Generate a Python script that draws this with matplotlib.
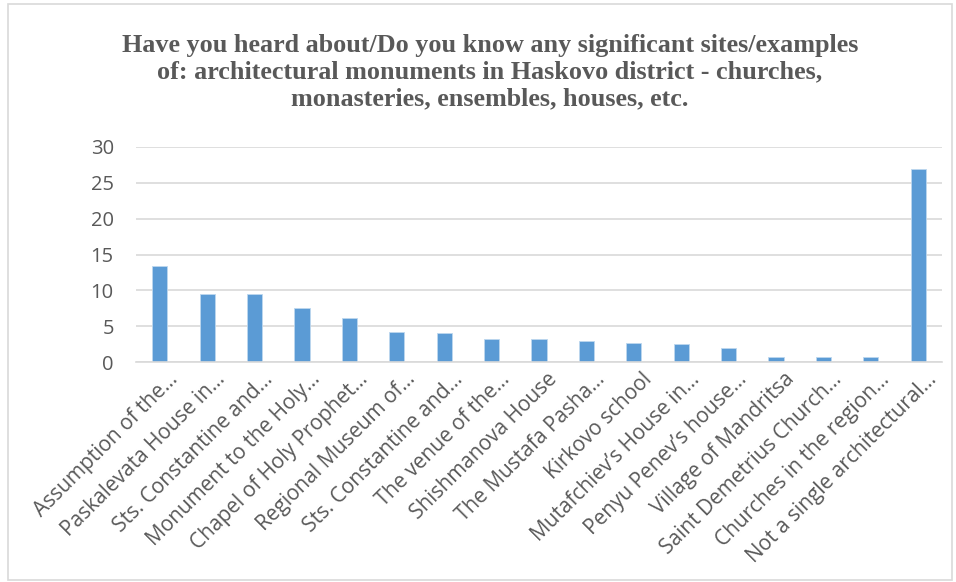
import matplotlib
matplotlib.use("Agg")
import matplotlib.pyplot as plt
import matplotlib.transforms as mtransforms
from matplotlib.patches import Rectangle

categories = [
    "Assumption of the…", "Paskalevata House in…", "Sts. Constantine and…",
    "Monument to the Holy…", "Chapel of Holy Prophet…", "Regional Museum of…",
    "Sts. Constantine and…", "The venue of the…", "Shishmanova House",
    "The Mustafa Pasha…", "Kirkovo school", "Mutafchiev’s House in…",
    "Penyu Penev’s house…", "Village of Mandritsa", "Saint Demetrius Church…",
    "Churches in the region…", "Not a single architectural…",
]
values = [13.4, 9.5, 9.5, 7.5, 6.2, 4.2, 4.0, 3.2, 3.2, 3.0, 2.7, 2.5, 2.0, 0.7, 0.7, 0.7, 26.9]
yticks = [0, 5, 10, 15, 20, 25, 30]
title = ("Have you heard about/Do you know any significant sites/examples\n"
         "of: architectural monuments in Haskovo district - churches,\n"
         "monasteries, ensembles, houses, etc.")

W, H = 956, 582
fig = plt.figure(figsize=(W / 100, H / 100), dpi=100)
fig.patches.append(Rectangle((8 / W, 2 / H), (W - 12) / W, (H - 6) / H,
                             transform=fig.transFigure, fill=False,
                             edgecolor="#d9d9d9", linewidth=1.2))
ax = fig.add_axes([136 / W, 1 - 362 / H, (942 - 136) / W, (362 - 147) / H])

x = list(range(len(categories)))
ax.bar(x, values, width=0.32, color="#5b9bd5", edgecolor="#bdd7ee", linewidth=0.6, zorder=3)
ax.set_xlim(-0.5, len(categories) - 0.5)
ax.set_ylim(0, 30)
ax.set_yticks(yticks)
ax.set_yticklabels([str(v) for v in yticks], fontsize=14.5, color="#595959", family="Open Sans")
ax.set_xticks(x)
ax.tick_params(axis="y", length=0, pad=16)
ax.tick_params(axis="x", length=0, pad=2)
ax.set_xticklabels(categories, rotation=45, ha="right", rotation_mode="anchor",
                   fontsize=15, color="#595959", family="Open Sans")
offset = mtransforms.ScaledTranslation(8 / 100, -4 / 100, fig.dpi_scale_trans)
for lbl in ax.get_xticklabels():
    lbl.set_transform(lbl.get_transform() + offset)
ax.grid(axis="y", color="#d9d9d9", linewidth=1.2, zorder=0)
for s in ["top", "right", "left"]:
    ax.spines[s].set_visible(False)
ax.spines["bottom"].set_color("#d9d9d9")
ax.spines["bottom"].set_linewidth(1.2)
ax.spines["bottom"].set_zorder(4)

fig.text(490 / W, 1 - 34 / H, title, ha="center", va="top", fontsize=18.8,
         fontweight="bold", color="#595959", family="Liberation Serif", linespacing=1.21)

fig.savefig("out.png", dpi=100)
